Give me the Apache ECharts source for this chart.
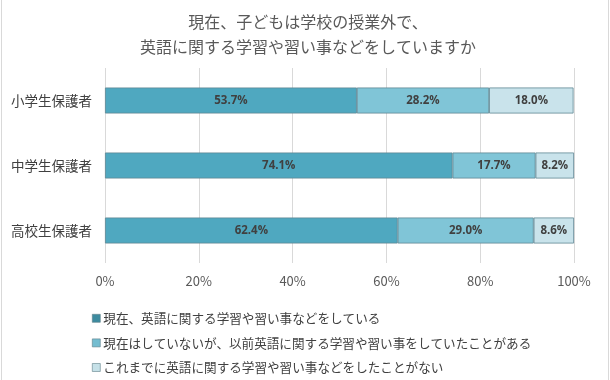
<!DOCTYPE html>
<html><head><meta charset="utf-8">
<script src="https://cdn.jsdelivr.net/npm/echarts@6/dist/echarts.min.js"></script>
<style>html,body{margin:0;padding:0;background:#fff}#c{width:610px;height:380px}</style>
</head><body><div id="c"></div>
<script>
const titleLines = ['現在、子どもは学校の授業外で、', '英語に関する学習や習い事などをしていますか'];
const categories = ['小学生保護者', '中学生保護者', '高校生保護者'];
const seriesNames = [
  '現在、英語に関する学習や習い事などをしている',
  '現在はしていないが、以前英語に関する学習や習い事をしていたことがある',
  'これまでに英語に関する学習や習い事などをしたことがない'
];
const current = [53.7, 74.1, 62.4];
const before = [28.2, 17.7, 29.0];
const never = [18.0, 8.2, 8.6];
const xTicks = [0, 20, 40, 60, 80, 100];

const barColors = ['#4FA8C0', '#80C5D7', '#C9E3EB'];
const legendColors = ['#3D8B9F', '#74BDD0', '#C6E1E8'];
const values = [current, before, never];
const font = '"Noto Sans CJK JP", sans-serif';

const chart = echarts.init(document.getElementById('c'), null, {renderer: 'canvas'});
chart.setOption({
  animation: false,
  backgroundColor: '#fff',
  title: {
    text: titleLines.join('\n'),
    left: 303, top: 4, textAlign: 'center',
    textStyle: {fontFamily: font, fontSize: 16, fontWeight: 'normal', color: '#595959', lineHeight: 25}
  },
  grid: {left: 105, right: 36, top: 68, bottom: 117, containLabel: false},
  xAxis: {
    type: 'value', min: xTicks[0], max: xTicks[xTicks.length - 1], interval: 20,
    axisLine: {show: false}, axisTick: {show: false},
    axisLabel: {formatter: '{value}%', color: '#595959', fontSize: 13, fontFamily: font, margin: 12},
    splitLine: {lineStyle: {color: '#D9D9D9', width: 1}}
  },
  yAxis: {
    type: 'category', data: categories, inverse: true,
    axisLine: {show: false}, axisTick: {show: false},
    axisLabel: {color: '#404040', fontSize: 13.5, fontFamily: font, margin: 13}
  },
  legend: {
    orient: 'vertical', left: 87, top: 307, itemGap: 12,
    itemWidth: 8, itemHeight: 8, icon: 'rect',
    textStyle: {fontFamily: font, fontSize: 12.6, color: '#404040', padding: [0, 0, 0, -2]},
    data: seriesNames.map((n, i) => ({name: n, itemStyle: {color: legendColors[i], borderColor: '#5F7F88', borderWidth: 0.6}}))
  },
  series: seriesNames.map((n, i) => ({
    name: n, type: 'bar', stack: 'total', barWidth: 26,
    data: values[i],
    itemStyle: {color: barColors[i], borderColor: '#5E8793', borderWidth: 0.8},
    label: {
      show: true, position: 'inside', formatter: p => p.value.toFixed(1) + '%',
      fontFamily: '"Open Sans", sans-serif', fontWeight: 'bold', fontSize: 11.5, color: '#404040'
    }
  })),
  graphic: [
    {type: 'line', shape: {x1: 1.5, y1: 0, x2: 1.5, y2: 380}, style: {stroke: '#D9D9D9', lineWidth: 1}},
    {type: 'line', shape: {x1: 608.5, y1: 0, x2: 608.5, y2: 380}, style: {stroke: '#D9D9D9', lineWidth: 1}}
  ]
});
</script></body></html>
